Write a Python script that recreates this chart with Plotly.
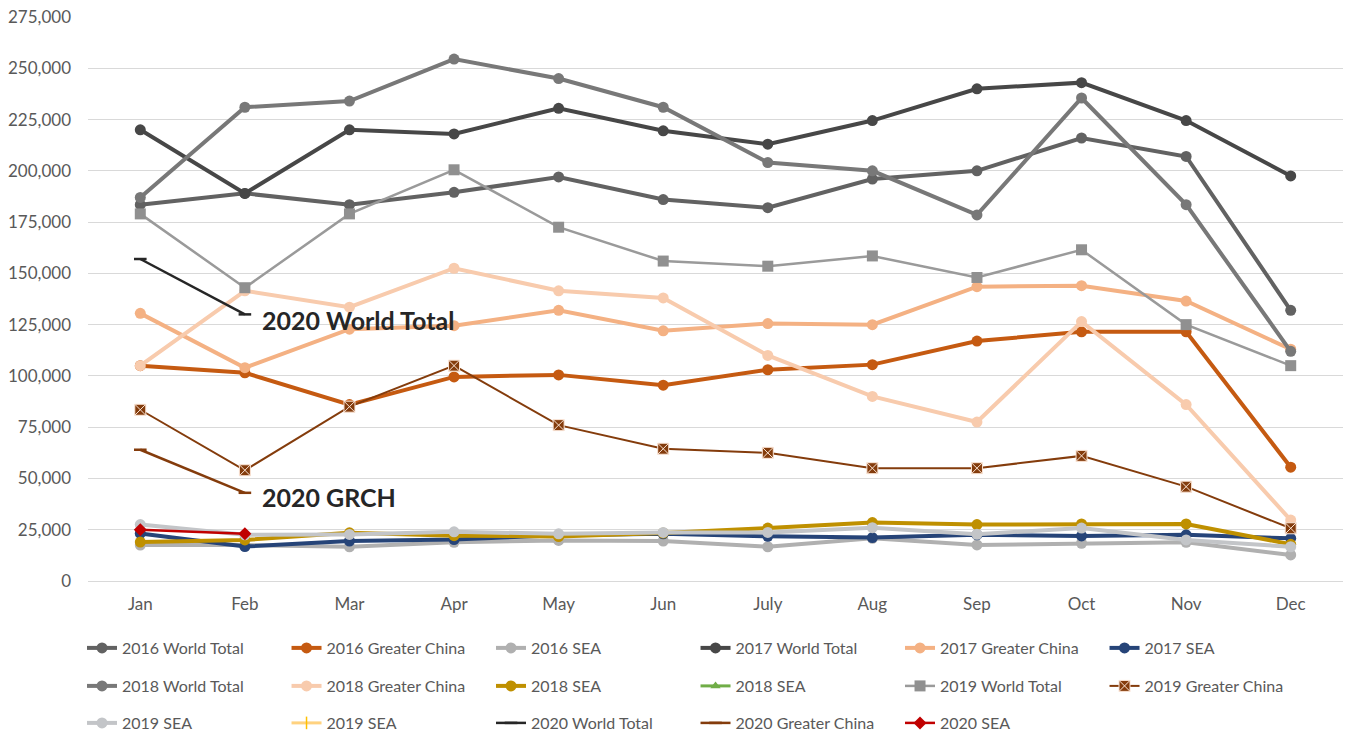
import plotly.graph_objects as go

months = ["Jan", "Feb", "Mar", "Apr", "May", "Jun", "July", "Aug", "Sep", "Oct", "Nov", "Dec"]

wt_2016 = [183500, 189000, 183500, 189500, 197000, 186000, 182000, 196000, 200000, 216000, 207000, 132000]
gc_2016 = [105000, 101500, 86000, 99500, 100500, 95500, 103000, 105500, 117000, 121500, 121500, 55500]
sea_2016 = [17500, 17500, 16700, 18900, 19800, 19500, 16700, 20800, 17600, 18400, 18900, 12700]
wt_2017 = [220000, 189000, 220000, 218000, 230500, 219500, 213000, 224500, 240000, 243000, 224500, 197500]
gc_2017 = [130500, 104000, 122800, 124500, 132000, 122000, 125500, 125000, 143500, 144000, 136500, 113000]
sea_2017 = [23200, 16800, 19500, 20200, 22300, 23000, 21800, 21200, 22500, 22000, 22500, 20800]
wt_2018 = [187000, 231000, 234000, 254500, 245000, 231000, 204000, 200000, 178500, 235500, 183500, 112000]
gc_2018 = [105000, 141500, 133500, 152500, 141500, 138000, 110000, 90000, 77500, 126500, 86000, 29700]
sea_2018 = [19000, 20000, 23500, 22100, 21700, 23400, 25800, 28500, 27500, 27800, 27800, 17900]
sea_2018b = [None] * 12
wt_2019 = [179000, 143000, 179000, 200500, 172500, 156000, 153500, 158500, 148000, 161500, 125000, 105000]
gc_2019 = [83500, 54000, 85000, 105000, 76000, 64500, 62500, 55000, 55000, 61000, 46000, 25700]
sea_2019 = [27500, 22500, 22700, 24000, 23000, 23700, 23700, 26000, 22800, 25800, 20000, 16700]
sea_2019b = [None] * 12
wt_2020 = [157000, 130000]
gc_2020 = [64000, 43000]
sea_2020 = [25000, 23000]

y_ticks = list(range(0, 275001, 25000))

fig = go.Figure()

def add(name, y, color, width, legend, symbol="circle", msize=11, mline=None, mcolor=None):
    marker = dict(symbol=symbol, size=msize, color=mcolor or color)
    if mline:
        marker["line"] = mline
    fig.add_trace(go.Scatter(
        x=months[:len(y)], y=y, name=name, mode="lines+markers",
        line=dict(color=color, width=width), marker=marker, legend=legend,
    ))

add("2016 World Total", wt_2016, "#626262", 4, "legend")
add("2016 Greater China", gc_2016, "#c55a11", 4, "legend")
add("2016 SEA", sea_2016, "#b0b0b0", 4, "legend")
add("2017 World Total", wt_2017, "#474747", 4, "legend")
add("2017 Greater China", gc_2017, "#f4b183", 4, "legend")
add("2017 SEA", sea_2017, "#264478", 4, "legend")
add("2018 World Total", wt_2018, "#787878", 4, "legend2")
add("2018 Greater China", gc_2018, "#f8cbad", 4, "legend2")
add("2018 SEA", sea_2018, "#bf9000", 4, "legend2")
add("2018 SEA", sea_2018b, "#70ad47", 3, "legend2", symbol="triangle-up", msize=9)
add("2019 World Total", wt_2019, "#9a9a9a", 2.5, "legend2", symbol="square", msize=11, mcolor="#909090")
add("2019 Greater China", gc_2019, "#843c0c", 2, "legend2", symbol="square-x", msize=11,
    mline=dict(color="#fbe5d6", width=1), mcolor="#843c0c")
add("2019 SEA", sea_2019, "#c3c5c8", 4, "legend3")
add("2019 SEA", sea_2019b, "#ffd27f", 3, "legend3", symbol="line-ns", msize=9,
    mline=dict(color="#ffc000", width=1.5))
add("2020 World Total", wt_2020, "#262626", 2.5, "legend3", symbol="line-ew", msize=9,
    mline=dict(color="#262626", width=2.5))
add("2020 Greater China", gc_2020, "#843c0c", 2.5, "legend3", symbol="line-ew", msize=9,
    mline=dict(color="#843c0c", width=2.5))
add("2020 SEA", sea_2020, "#c00000", 2.5, "legend3", symbol="diamond", msize=10)

ann_font = dict(family="Lato", size=25, color="#262626")
fig.add_annotation(x=1.14, y=wt_2020[1], text="<b>2020 World Total</b>", showarrow=False,
                   xanchor="left", yanchor="middle", yshift=-6, font=ann_font)
fig.add_annotation(x=1.14, y=gc_2020[1], text="<b>2020 GRCH</b>", showarrow=False,
                   xanchor="left", yanchor="middle", yshift=-4, font=ann_font)

leg_common = dict(orientation="h", xref="container", yref="container", xanchor="left",
                  yanchor="middle", entrywidth=159.5, entrywidthmode="pixels",
                  font=dict(family="Lato", size=16, color="#595959"),
                  bgcolor="rgba(0,0,0,0)", itemclick=False)

fig.update_layout(
    width=1349, height=742,
    margin=dict(l=88, r=6, t=17, b=161),
    paper_bgcolor="white", plot_bgcolor="white",
    font=dict(family="Lato", size=16, color="#595959"),
    xaxis=dict(type="category", range=[-0.5, 11.5], showgrid=False, showline=True,
               linecolor="#d9d9d9", linewidth=1, ticks="", ticklabelstandoff=8,
               tickfont=dict(size=17, color="#595959")),
    yaxis=dict(range=[0, 275000], tickvals=y_ticks, tickformat=",d", showgrid=True,
               gridcolor="#d9d9d9", gridwidth=1, zeroline=False, showline=False,
               ticks="", tickfont=dict(size=17, color="#595959"), ticklabelstandoff=16),
    legend=dict(x=0.0608, y=1 - 648 / 742, **leg_common),
    legend2=dict(x=0.0608, y=1 - 686 / 742, **leg_common),
    legend3=dict(x=0.0608, y=1 - 723 / 742, **leg_common),
    showlegend=True,
)

fig.write_html("out.html")
